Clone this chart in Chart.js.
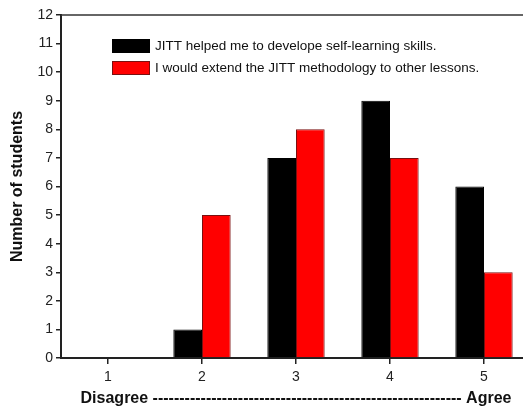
<!DOCTYPE html>
<html>
<head>
<meta charset="utf-8">
<script src="https://cdn.jsdelivr.net/npm/chart.js@4/dist/chart.umd.min.js"></script>
<style>
  html, body { margin: 0; padding: 0; background: #fff; overflow: hidden; }
  #wrap { width: 523px; height: 411px; overflow: hidden; }
</style>
</head>
<body>
<div id="wrap"><canvas id="chart" width="536" height="411"></canvas></div>
<script>
const categories = ['1', '2', '3', '4', '5'];
const selfLearning = [0, 1, 7, 9, 6];
const extendMethod = [0, 5, 8, 7, 3];
const seriesLabels = [
  'JITT helped me to develope self-learning skills.',
  'I would extend the JITT methodology to other lessons.'
];
const yTicks = [0, 1, 2, 3, 4, 5, 6, 7, 8, 9, 10, 11, 12];

const FONT = "'Liberation Sans', Arial, sans-serif";

// legend boxes drawn inside the plot area, top-left
const insideLegend = {
  id: 'insideLegend',
  afterDraw(chart) {
    const { ctx, chartArea } = chart;
    const x0 = chartArea.left + 51;
    let y0 = chartArea.top + 24;
    ctx.save();
    ctx.font = '13.5px ' + FONT;
    ctx.textBaseline = 'middle';
    chart.data.datasets.forEach(ds => {
      ctx.fillStyle = ds.backgroundColor;
      ctx.fillRect(x0, y0, 38, 14);
      ctx.strokeStyle = ds.borderColor;
      ctx.lineWidth = 1;
      ctx.strokeRect(x0 + 0.5, y0 + 0.5, 37, 13);
      ctx.fillStyle = '#111';
      ctx.fillText(ds.label, x0 + 43, y0 + 7.5);
      y0 += 22;
    });
    ctx.restore();
  }
};

// top frame line; the right side of the frame lies outside the picture
const frame = {
  id: 'frame',
  afterDraw(chart) {
    const { ctx, chartArea } = chart;
    ctx.save();
    ctx.strokeStyle = '#333';
    ctx.lineWidth = 1.5;
    ctx.beginPath();
    ctx.moveTo(chartArea.left, chartArea.top);
    ctx.lineTo(chartArea.right, chartArea.top);
    ctx.stroke();
    ctx.restore();
  }
};

new Chart(document.getElementById('chart'), {
  type: 'bar',
  data: {
    labels: categories,
    datasets: [
      {
        label: seriesLabels[0],
        data: selfLearning,
        backgroundColor: '#000000',
        borderColor: '#000000',
        borderWidth: c => (c.raw ? 1 : 0)
      },
      {
        label: seriesLabels[1],
        data: extendMethod,
        backgroundColor: '#ff0000',
        borderColor: '#7a1010',
        borderWidth: c => (c.raw ? 1 : 0)
      }
    ]
  },
  options: {
    responsive: false,
    animation: false,
    layout: { padding: { top: 15, right: 5, left: 0, bottom: 0 } },
    datasets: { bar: { categoryPercentage: 0.61, barPercentage: 1.0, borderSkipped: 'start' } },
    plugins: { legend: { display: false }, tooltip: { enabled: false } },
    scales: {
      x: {
        offset: true,
        grid: { offset: false, drawOnChartArea: false, drawTicks: true, tickLength: 6, color: '#222', lineWidth: 1.5 },
        border: { color: '#222', width: 2 },
        ticks: { color: '#222', font: { family: FONT, size: 14 }, padding: 5 },
        title: {
          display: true,
          text: 'Disagree ' + '-'.repeat(58) + ' Agree',
          color: '#111',
          font: { family: FONT, size: 16, weight: 'bold' },
          padding: { top: 4, bottom: 3 }
        },
        afterFit: s => { s.height = 53; }
      },
      y: {
        min: 0,
        max: 12,
        afterBuildTicks: s => { s.ticks = yTicks.map(v => ({ value: v })); },
        grid: { drawOnChartArea: false, drawTicks: true, tickLength: 5, color: '#222', lineWidth: 1.5 },
        border: { color: '#222', width: 2 },
        ticks: { color: '#222', font: { family: FONT, size: 14 }, padding: 3 },
        title: {
          display: true,
          text: 'Number of students',
          color: '#111',
          font: { family: FONT, size: 16, weight: 'bold' },
          padding: { top: 8, bottom: 4 }
        },
        afterFit: s => { s.width = 61; }
      }
    }
  },
  plugins: [insideLegend, frame]
});
</script>
</body>
</html>
